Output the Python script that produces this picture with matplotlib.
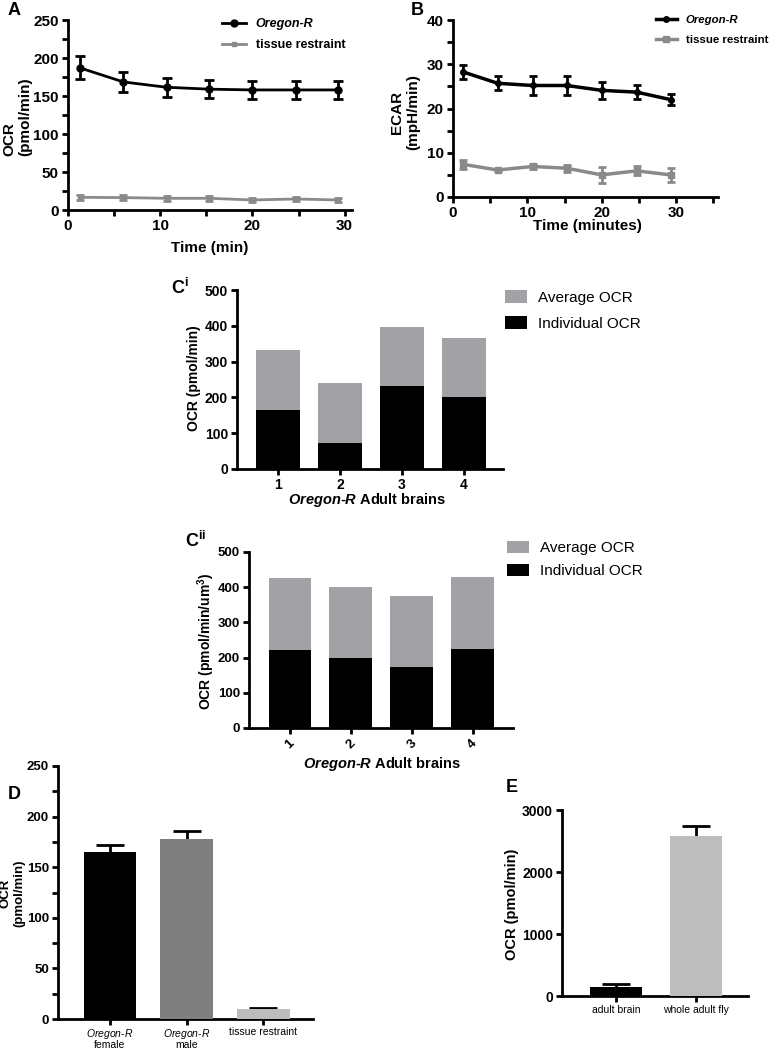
import numpy as np
import matplotlib
matplotlib.use('Agg')
import matplotlib.pyplot as plt

# --- Datos -------------------------------------------------------------------
t_min = [1.3, 6.0, 10.7, 15.3, 20.0, 24.7, 29.3]

ocr_oregon = [187, 168.5, 161.5, 159, 158, 158, 158]
ocr_oregon_err = [15, 13.5, 12.5, 12, 12, 12, 12]
ocr_tissue = [16.7, 16.3, 15.4, 15.4, 13.2, 14.5, 13.2]
ocr_tissue_err = [3, 3, 3, 3, 3, 3, 3]

ecar_oregon = [28.3, 25.7, 25.2, 25.2, 24.1, 23.7, 22.0]
ecar_oregon_err = [1.6, 1.6, 2.2, 2.2, 2.0, 1.6, 1.2]
ecar_tissue = [7.4, 6.1, 6.9, 6.5, 5.0, 5.9, 5.0]
ecar_tissue_err = [1.0, 0.3, 0.5, 0.8, 1.8, 1.0, 1.5]

brains = ['1', '2', '3', '4']
ci_individual = [165, 72, 232, 200]
ci_average = [168, 168, 166, 166]
cii_individual = [221, 198, 173, 225]
cii_average = [204, 203, 203, 204]

d_groups = [r'$\mathit{Oregon}$-$\mathit{R}$' + '\nfemale',
            r'$\mathit{Oregon}$-$\mathit{R}$' + '\nmale',
            'tissue restraint']
d_ocr = [165, 178, 9.8]
d_err = [7, 8, 1]

e_groups = ['adult brain', 'whole adult fly']
e_ocr = [150, 2581]
e_err = [40, 160]

# --- Estilo ------------------------------------------------------------------
plt.rcParams['font.family'] = ['Liberation Sans', 'DejaVu Sans']
plt.rcParams['font.weight'] = 'bold'
plt.rcParams['axes.labelweight'] = 'bold'
plt.rcParams['mathtext.fontset'] = 'custom'
plt.rcParams['mathtext.rm'] = 'Liberation Sans:weight=bold'
plt.rcParams['mathtext.it'] = 'Liberation Sans:style=italic:weight=normal'
plt.rcParams['mathtext.bfit'] = 'Liberation Sans:style=italic:weight=bold'
plt.rcParams['mathtext.default'] = 'rm'

W, H = 771, 1050
fig = plt.figure(figsize=(W / 100, H / 100), dpi=100)


def fx(x):
    return x / W


def fy(y):
    return 1 - y / H


def add_ax(l, t, r, b):
    ax = fig.add_axes([l / W, 1 - b / H, (r - l) / W, (b - t) / H])
    ax.patch.set_visible(False)
    return ax


def style(ax, size):
    for s in ['top', 'right']:
        ax.spines[s].set_visible(False)
    for s in ['left', 'bottom']:
        ax.spines[s].set_linewidth(2)
    ax.tick_params(which='both', width=2, length=4.5, direction='out', labelsize=size, pad=2)


def put_xlabel(ax, x, y):
    ax.xaxis.label.set_va('center')
    ax.xaxis.set_label_coords(fx(x), fy(y), transform=fig.transFigure)


def put_ylabel(ax, x, y):
    ax.yaxis.label.set_va('center')
    ax.yaxis.set_label_coords(fx(x), fy(y), transform=fig.transFigure)


black = '#000000'
grey_line = '#8a8a8a'
grey_bar = '#a2a2a6'

# --- A -----------------------------------------------------------------------
axA = add_ax(68, 20, 352, 210)
style(axA, 11)
axA.errorbar(t_min, ocr_oregon, yerr=ocr_oregon_err, fmt='none', ecolor=black,
             elinewidth=2, capsize=3.5, capthick=2, clip_on=False)
axA.errorbar(t_min, ocr_tissue, yerr=ocr_tissue_err, fmt='none', ecolor=grey_line,
             elinewidth=2, capsize=3, capthick=2, clip_on=False)
axA.plot(t_min, ocr_oregon, color=black, lw=2, marker='o', ms=5, label='Oregon-R', clip_on=False)
axA.plot(t_min, ocr_tissue, color=grey_line, lw=2, marker='s', ms=3, label='tissue restraint', clip_on=False)
axA.set_xlim(0, 30.8)
axA.set_ylim(0, 250)
axA.set_xticks([0, 10, 20, 30])
axA.set_xticks([5, 15, 25], minor=True)
axA.set_yticks([0, 50, 100, 150, 200, 250])
axA.set_yticks(np.arange(25, 250, 50), minor=True)
axA.set_xlabel('Time (min)', fontsize=11)
put_xlabel(axA, 210, 248)
axA.set_ylabel('OCR\n(pmol/min)', fontsize=11, multialignment='left')
put_ylabel(axA, 17, 117)
legA = axA.legend(loc='upper left', bbox_to_anchor=(fx(222), fy(18)), bbox_transform=fig.transFigure,
                  frameon=False, fontsize=9, handlelength=1.9, handletextpad=0.8, labelspacing=0.75,
                  borderpad=0, borderaxespad=0, numpoints=1)
legA.get_texts()[0].set_style('italic')
fig.text(fx(8), fy(2), 'A', fontsize=13, fontweight='bold', va='top', ha='left')

# --- B -----------------------------------------------------------------------
axB = add_ax(453, 20, 718, 197)
style(axB, 11)
axB.errorbar(t_min, ecar_oregon, yerr=ecar_oregon_err, fmt='none', ecolor=black,
             elinewidth=2, capsize=3, capthick=2, clip_on=False)
axB.errorbar(t_min, ecar_tissue, yerr=ecar_tissue_err, fmt='none', ecolor=grey_line,
             elinewidth=2, capsize=3, capthick=2, clip_on=False)
axB.plot(t_min, ecar_oregon, color=black, lw=2.5, marker='o', ms=4, label='Oregon-R', clip_on=False)
axB.plot(t_min, ecar_tissue, color=grey_line, lw=2.5, marker='s', ms=4, label='tissue restraint', clip_on=False)
axB.set_xlim(0, 35.65)
axB.set_ylim(0, 40)
axB.set_xticks([0, 10, 20, 30])
axB.set_xticks([5, 15, 25, 35], minor=True)
axB.set_yticks([0, 10, 20, 30, 40])
axB.set_yticks([5, 15, 25, 35], minor=True)
axB.set_xlabel('Time (minutes)', fontsize=11)
put_xlabel(axB, 587, 226)
axB.set_ylabel('ECAR\n(mpH/min)', fontsize=11)
put_ylabel(axB, 405, 112)
legB = axB.legend(loc='upper left', bbox_to_anchor=(fx(656), fy(15)), bbox_transform=fig.transFigure,
                  frameon=False, fontsize=8.2, handlelength=1.8, handletextpad=0.8, labelspacing=0.85,
                  borderpad=0, borderaxespad=0, numpoints=1)
legB.get_texts()[0].set_style('italic')
fig.text(fx(411), fy(2), 'B', fontsize=13, fontweight='bold', va='top', ha='left')

# --- Ci ----------------------------------------------------------------------
x_br = np.arange(1, 5)
axCi = add_ax(237, 290, 503, 469)
style(axCi, 10)
b_ind = axCi.bar(x_br, ci_individual, width=0.7, color=black, label='Individual OCR')
b_avg = axCi.bar(x_br, ci_average, width=0.7, bottom=ci_individual, color=grey_bar, label='Average OCR')
axCi.set_xlim(0.34, 4.63)
axCi.set_ylim(0, 500)
axCi.set_xticks(x_br)
axCi.set_xticklabels(brains)
axCi.set_yticks(np.arange(0, 501, 100))
axCi.set_xlabel(r'$\mathbfit{Oregon}$-$\mathbfit{R}$ Adult brains', fontsize=10.5)
put_xlabel(axCi, 367, 500)
axCi.set_ylabel('OCR (pmol/min)', fontsize=10)
put_ylabel(axCi, 194, 378)
axCi.legend(handles=[b_avg, b_ind], loc='upper left', bbox_to_anchor=(fx(505), fy(290)),
            bbox_transform=fig.transFigure, frameon=False, prop={'size': 11, 'weight': 'normal'},
            handlelength=1.45, handleheight=0.95, handletextpad=0.7, labelspacing=0.75,
            borderpad=0, borderaxespad=0)
fig.text(fx(171), fy(278), r'C$^{\mathrm{i}}$', fontsize=13, fontweight='bold', va='top', ha='left')

# --- Cii ---------------------------------------------------------------------
axCii = add_ax(249, 552, 513, 728)
style(axCii, 9.5)
c_ind = axCii.bar(x_br, cii_individual, width=0.7, color=black, label='Individual OCR')
c_avg = axCii.bar(x_br, cii_average, width=0.7, bottom=cii_individual, color=grey_bar, label='Average OCR')
axCii.set_xlim(0.33, 4.66)
axCii.set_ylim(0, 500)
axCii.set_xticks(x_br)
axCii.set_xticklabels(brains, rotation=45, ha='center')
axCii.set_yticks(np.arange(0, 501, 100))
axCii.set_xlabel(r'$\mathbfit{Oregon}$-$\mathbfit{R}$ Adult brains', fontsize=10.5)
put_xlabel(axCii, 382, 764)
axCii.set_ylabel(r'OCR (pmol/min/um$^3$)', fontsize=10)
put_ylabel(axCii, 206, 641)
axCii.legend(handles=[c_avg, c_ind], loc='upper left', bbox_to_anchor=(fx(507), fy(541)),
             bbox_transform=fig.transFigure, frameon=False, prop={'size': 11, 'weight': 'normal'},
             handlelength=1.45, handleheight=0.85, handletextpad=0.7, labelspacing=0.55,
             borderpad=0, borderaxespad=0)
fig.text(fx(185), fy(531), r'C$^{\mathrm{ii}}$', fontsize=13, fontweight='bold', va='top', ha='left')

# --- D -----------------------------------------------------------------------
x_d = np.arange(len(d_groups))
axD = add_ax(58, 766, 313, 1019)
style(axD, 9.5)
axD.bar(x_d, d_ocr, width=0.69, color=[black, '#7f7f7f', '#bdbdbd'], zorder=3)
axD.errorbar(x_d, d_ocr, yerr=d_err, fmt='none', ecolor=black, elinewidth=2,
             capsize=10, capthick=2, zorder=2)
axD.set_xlim(-0.68, 2.65)
axD.set_ylim(0, 250)
axD.set_xticks(x_d)
axD.set_xticklabels(d_groups, fontsize=7.5, fontweight='normal', linespacing=0.95)
axD.tick_params(axis='x', pad=1)
axD.set_yticks(np.arange(0, 251, 50))
axD.set_yticks(np.arange(25, 250, 50), minor=True)
axD.set_ylabel('OCR\n(pmol/min)', fontsize=9.5)
put_ylabel(axD, 12, 893)
fig.text(fx(8), fy(786), 'D', fontsize=13, fontweight='bold', va='top', ha='left')

# --- E -----------------------------------------------------------------------
x_e = np.arange(len(e_groups))
axE = add_ax(562, 810, 748, 996)
style(axE, 10)
axE.bar(x_e, e_ocr, width=0.66, color=[black, '#bdbdbd'], zorder=3)
axE.errorbar(x_e, e_ocr, yerr=e_err, fmt='none', ecolor=black, elinewidth=2,
             capsize=10, capthick=2, zorder=2)
axE.set_xlim(-0.675, 1.65)
axE.set_ylim(0, 3000)
axE.set_xticks(x_e)
axE.set_xticklabels(e_groups, fontsize=7.5, fontweight='normal')
axE.set_yticks([0, 1000, 2000, 3000])
axE.set_ylabel('OCR (pmol/min)', fontsize=10.5)
put_ylabel(axE, 512, 904)
fig.text(fx(506), fy(779), 'E', fontsize=13, fontweight='bold', va='top', ha='left')

fig.savefig('out.png', dpi=100)
